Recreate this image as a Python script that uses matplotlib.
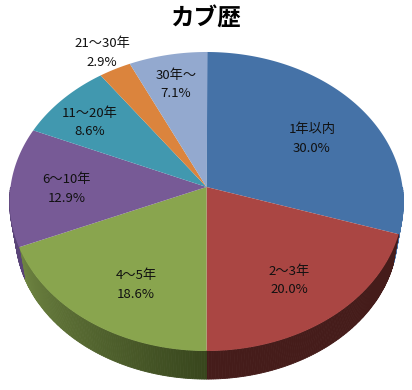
import numpy as np
import matplotlib as mpl
import matplotlib.pyplot as plt

mpl.use("agg")

plt.rcParams["font.family"] = ["Noto Sans CJK JP", "DejaVu Sans"]

title = "カブ歴"
categories = ["1年以内", "2～3年", "4～5年", "6～10年", "11～20年", "21～30年", "30年～"]
percents = [30.0, 20.0, 18.6, 12.9, 8.6, 2.9, 7.1]
top_colors = ["#4572a7", "#aa4643", "#89a54e", "#775a96", "#4198af", "#db843d", "#93a9cf"]
side_light = ["#4572a7", "#451c1a", "#6f8542", "#5a4478", "#2f7080", "#a0602c", "#6c7c98"]
side_dark = ["#4572a7", "#451c1a", "#38461d", "#5a4478", "#2f7080", "#a0602c", "#6c7c98"]

# label position in pixels, upper line centre
label_xy = [(312, 130), (289, 271), (136, 276), (67, 180), (90, 113), (102, 44), (176, 75)]

# perspective of the pie plane, fitted to the picture
cx, cy = 206.5, 187.0
rx, ry, k = 196.0, 148.1, 0.097
# lower rim is a bit smaller and shifted down
shrink, drop = 0.97, 33.0


def project(theta, scale=1.0, shift=0.0):
    u, v = np.sin(theta), np.cos(theta)
    den = 1 + k * v
    return cx + scale * rx * u / den, cy + shift - scale * ry * v / den


def mix(c1, c2, t):
    a = np.array(mpl.colors.to_rgb(c1))
    b = np.array(mpl.colors.to_rgb(c2))
    return a + (b - a) * t


fig = plt.figure(figsize=(4.12, 3.90), dpi=100)
ax = fig.add_axes([0, 0, 1, 1])
ax.set_xlim(0, 412)
ax.set_ylim(390, 0)
ax.axis("off")

edges = np.cumsum([0] + percents) / 100 * 2 * np.pi

# side wall first, the top face covers whatever is not visible
for i in range(len(percents)):
    t0, t1 = max(edges[i], np.pi / 2), min(edges[i + 1], 3 * np.pi / 2)
    if t1 <= t0:
        continue
    steps = np.linspace(t0, t1, int((t1 - t0) * 90) + 2)
    xs, ys = project(steps)
    xb, yb = project(steps, shrink, drop)
    for j in range(len(steps) - 1):
        f = (steps[j] - t0) / (t1 - t0)
        # green gets lighter away from the front, the others stay flat
        color = mix(side_dark[i], side_light[i], f)
        ax.fill(
            [xs[j], xs[j + 1], xb[j + 1], xb[j]],
            [ys[j], ys[j + 1], yb[j + 1], yb[j]],
            facecolor=color,
            edgecolor=color,
            lw=0.6,
        )

# top face
for i, color in enumerate(top_colors):
    steps = np.linspace(edges[i], edges[i + 1], 120)
    xs, ys = project(steps)
    ax.fill(np.r_[cx, xs], np.r_[cy, ys], color=color, lw=0)

for name, pct, (x, y) in zip(categories, percents, label_xy):
    ax.text(x, y, name, ha="center", va="center", fontsize=9.5, color="#111111")
    ax.text(x, y + 18.5, f"{pct:.1f}%", ha="center", va="center", fontsize=9.5, color="#111111")

ax.text(206, 19, title, ha="center", va="center", fontsize=17, fontweight="bold", color="black")

fig.savefig("out.png", dpi=100)
